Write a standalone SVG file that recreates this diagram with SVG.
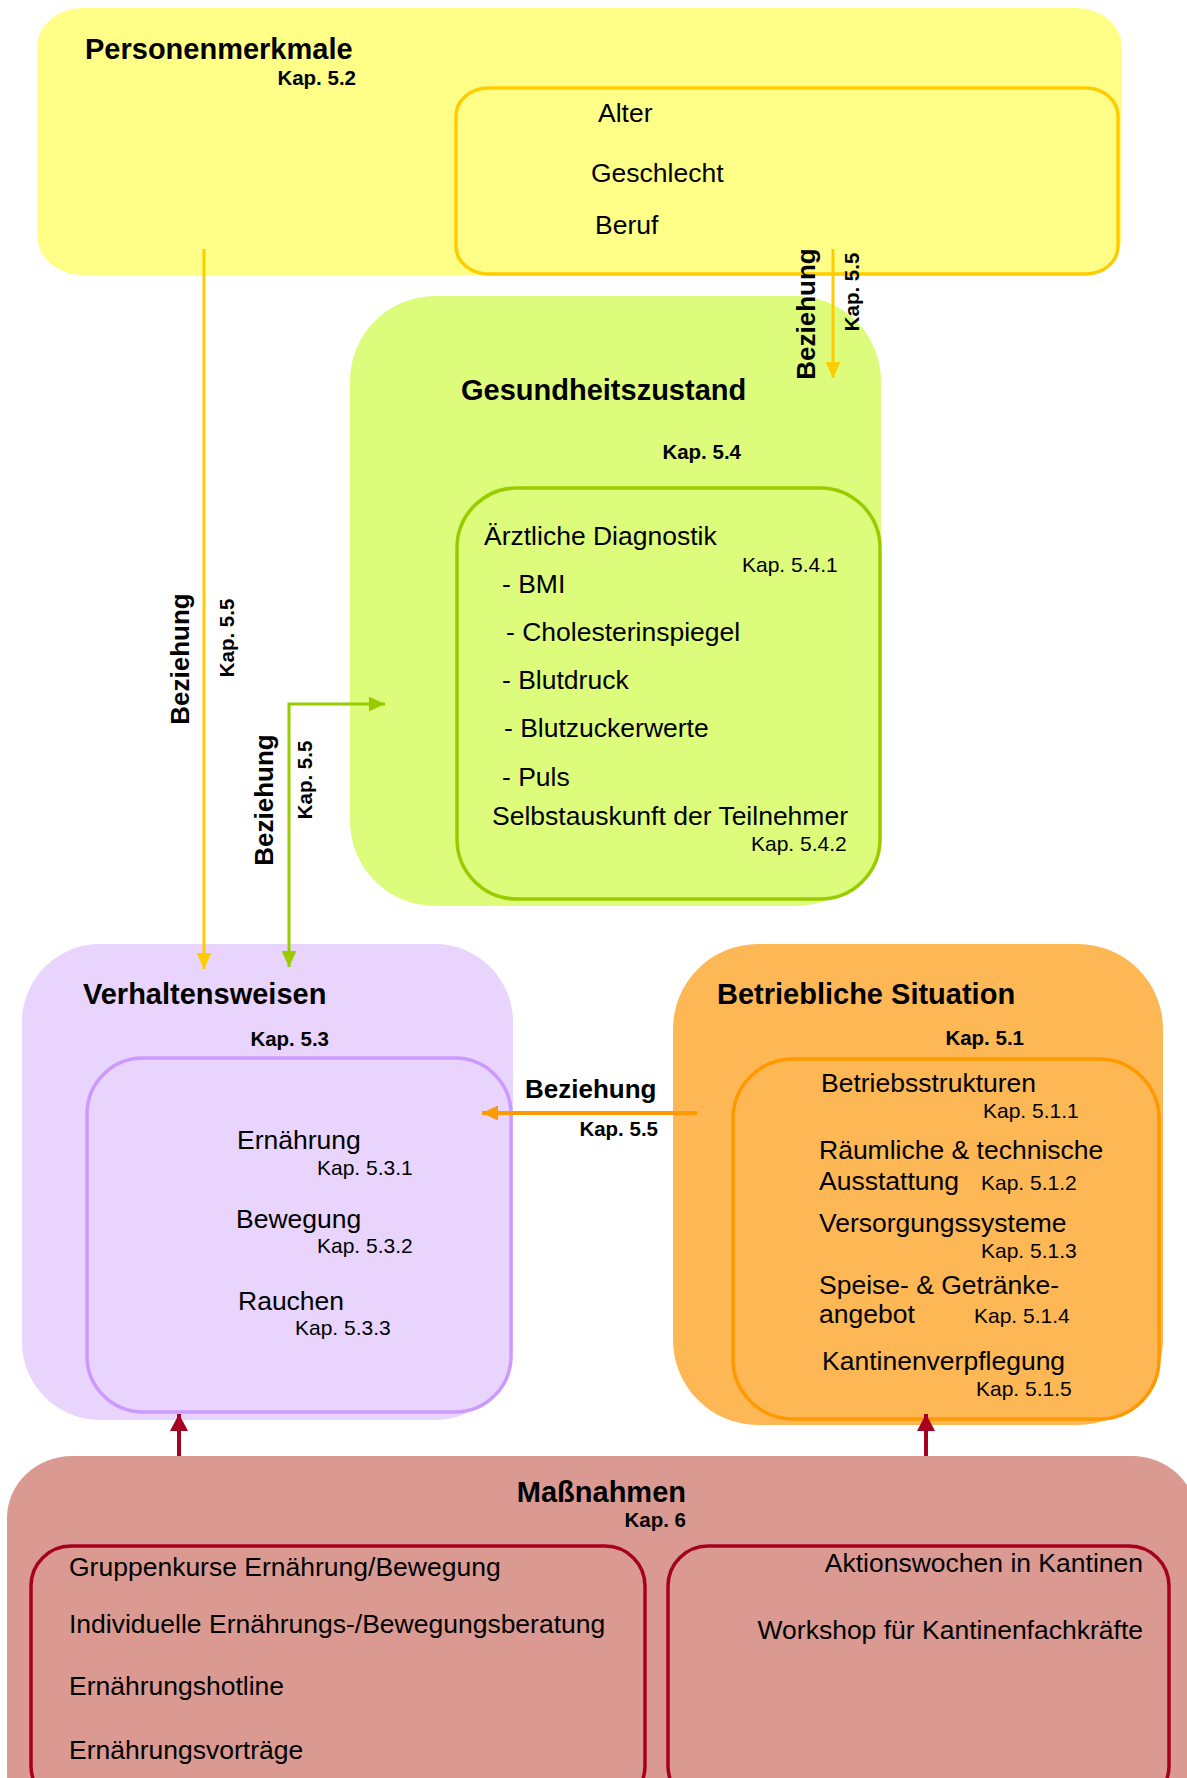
<svg xmlns="http://www.w3.org/2000/svg" width="1187" height="1778" viewBox="0 0 1187 1778">
<defs>
<style>
text{font-family:"Liberation Sans",Arial,Helvetica,sans-serif;fill:#000}
.t{font-size:29px;font-weight:bold}
.i{font-size:26.5px}
.k{font-size:21px}
.kb{font-size:20.5px;font-weight:bold}
.bz{font-size:26px;font-weight:bold}
.in{stroke-width:3.5}
</style>
<marker id="aY" markerUnits="userSpaceOnUse" markerWidth="16" markerHeight="15" refX="16" refY="7.5" orient="auto-start-reverse"><path d="M0,0 L16,7.5 L0,15 z" fill="#FFCC00"/></marker>
<marker id="aG" markerUnits="userSpaceOnUse" markerWidth="16" markerHeight="15" refX="16" refY="7.5" orient="auto-start-reverse"><path d="M0,0 L16,7.5 L0,15 z" fill="#99CC00"/></marker>
<marker id="aO" markerUnits="userSpaceOnUse" markerWidth="16" markerHeight="15" refX="16" refY="7.5" orient="auto-start-reverse"><path d="M0,0 L16,7.5 L0,15 z" fill="#FF9900"/></marker>
<marker id="aR" markerUnits="userSpaceOnUse" markerWidth="17" markerHeight="18" refX="17" refY="9" orient="auto-start-reverse"><path d="M0,0 L17,9 L0,18 z" fill="#A50021"/></marker>
</defs>
<rect width="1187" height="1778" fill="#FFFFFF"/>

<g id="personenmerkmale">
<rect x="37" y="8" width="1085" height="267" rx="45" ry="40" fill="#FFFF88"/>
<rect x="456" y="88" width="662" height="186" rx="32" ry="28" fill="#FFFF88" stroke="#FFCC00" class="in"/>
<text class="t" x="85" y="59">Personenmerkmale</text>
<text class="kb" x="356" y="85" text-anchor="end">Kap. 5.2</text>
<text class="i" x="598" y="122">Alter</text>
<text class="i" x="591" y="182">Geschlecht</text>
<text class="i" x="595" y="234">Beruf</text>
</g>

<g id="gesundheitszustand">
<rect x="350" y="296" width="531" height="610" rx="85" ry="85" fill="#DDFC7B"/>
<rect x="457" y="488" width="423" height="411" rx="60" ry="60" fill="#DDFC7B" stroke="#99CC00" class="in"/>
<text class="t" x="461" y="400">Gesundheitszustand</text>
<text class="kb" x="741" y="459" text-anchor="end">Kap. 5.4</text>
<text class="i" x="484" y="545">Ärztliche Diagnostik</text>
<text class="k" x="742" y="572">Kap. 5.4.1</text>
<text class="i" x="502" y="593">- BMI</text>
<text class="i" x="506" y="641">- Cholesterinspiegel</text>
<text class="i" x="502" y="689">- Blutdruck</text>
<text class="i" x="504" y="737">- Blutzuckerwerte</text>
<text class="i" x="502" y="786">- Puls</text>
<text class="i" x="492" y="825">Selbstauskunft der Teilnehmer</text>
<text class="k" x="751" y="851">Kap. 5.4.2</text>
</g>

<g id="verhaltensweisen">
<rect x="22" y="944" width="491" height="476" rx="78" ry="78" fill="#E8D4FC"/>
<rect x="87" y="1058" width="424" height="354" rx="56" ry="56" fill="#E8D4FC" stroke="#CC99FF" class="in"/>
<text class="t" x="83" y="1004">Verhaltensweisen</text>
<text class="kb" x="329" y="1046" text-anchor="end">Kap. 5.3</text>
<text class="i" x="237" y="1149">Ernährung</text>
<text class="k" x="317" y="1175">Kap. 5.3.1</text>
<text class="i" x="236" y="1228">Bewegung</text>
<text class="k" x="317" y="1253">Kap. 5.3.2</text>
<text class="i" x="238" y="1310">Rauchen</text>
<text class="k" x="295" y="1335">Kap. 5.3.3</text>
</g>

<g id="betriebliche-situation">
<rect x="673" y="944" width="490" height="481" rx="85" ry="85" fill="#FDB755"/>
<rect x="733" y="1059" width="426" height="360" rx="60" ry="60" fill="#FDB755" stroke="#FF9900" class="in"/>
<text class="t" x="717" y="1004">Betriebliche Situation</text>
<text class="kb" x="1024" y="1045" text-anchor="end">Kap. 5.1</text>
<text class="i" x="821" y="1092">Betriebsstrukturen</text>
<text class="k" x="983" y="1118">Kap. 5.1.1</text>
<text class="i" x="819" y="1159">Räumliche &amp; technische</text>
<text class="i" x="819" y="1190">Ausstattung</text>
<text class="k" x="981" y="1190">Kap. 5.1.2</text>
<text class="i" x="819" y="1232">Versorgungssysteme</text>
<text class="k" x="981" y="1258">Kap. 5.1.3</text>
<text class="i" x="819" y="1294">Speise- &amp; Getränke-</text>
<text class="i" x="819" y="1323">angebot</text>
<text class="k" x="974" y="1323">Kap. 5.1.4</text>
<text class="i" x="822" y="1370">Kantinenverpflegung</text>
<text class="k" x="976" y="1396">Kap. 5.1.5</text>
</g>

<g id="massnahmen">
<rect x="7" y="1456" width="1190" height="380" rx="65" ry="62" fill="#DA9A92"/>
<rect x="31" y="1546" width="614" height="260" rx="40" ry="40" fill="#DA9A92" stroke="#A50021" class="in"/>
<rect x="668" y="1546" width="501" height="260" rx="40" ry="40" fill="#DA9A92" stroke="#A50021" class="in"/>
<text class="t" x="686" y="1502" text-anchor="end">Maßnahmen</text>
<text class="kb" x="686" y="1527" text-anchor="end">Kap. 6</text>
<text class="i" x="69" y="1576">Gruppenkurse Ernährung/Bewegung</text>
<text class="i" x="69" y="1633">Individuelle Ernährungs-/Bewegungsberatung</text>
<text class="i" x="69" y="1695">Ernährungshotline</text>
<text class="i" x="69" y="1759">Ernährungsvorträge</text>
<text class="i" x="1143" y="1572" text-anchor="end">Aktionswochen in Kantinen</text>
<text class="i" x="1143" y="1639" text-anchor="end">Workshop für Kantinenfachkräfte</text>
</g>

<g id="connectors" fill="none">
<path d="M204,249 L204,969" stroke="#FFCC00" stroke-width="3" marker-end="url(#aY)"/>
<path d="M833,249 L833,378" stroke="#FFCC00" stroke-width="3" marker-end="url(#aY)"/>
<path d="M289,967 L289,704 L385,704" stroke="#99CC00" stroke-width="3" marker-start="url(#aG)" marker-end="url(#aG)"/>
<path d="M697,1113 L482,1113" stroke="#FF9900" stroke-width="4" marker-end="url(#aO)"/>
<path d="M179,1456 L179,1414" stroke="#A50021" stroke-width="4" marker-end="url(#aR)"/>
<path d="M926,1456 L926,1414" stroke="#A50021" stroke-width="4" marker-end="url(#aR)"/>
<text class="bz" transform="translate(189,659) rotate(-90)" text-anchor="middle">Beziehung</text>
<text class="kb" transform="translate(234,638) rotate(-90)" text-anchor="middle">Kap. 5.5</text>
<text class="bz" transform="translate(273,800) rotate(-90)" text-anchor="middle">Beziehung</text>
<text class="kb" transform="translate(312,780) rotate(-90)" text-anchor="middle">Kap. 5.5</text>
<text class="bz" transform="translate(815,314) rotate(-90)" text-anchor="middle">Beziehung</text>
<text class="kb" transform="translate(859,292) rotate(-90)" text-anchor="middle">Kap. 5.5</text>
<text class="bz" x="525" y="1098">Beziehung</text>
<text class="kb" x="658" y="1136" text-anchor="end">Kap. 5.5</text>
</g>
</svg>
